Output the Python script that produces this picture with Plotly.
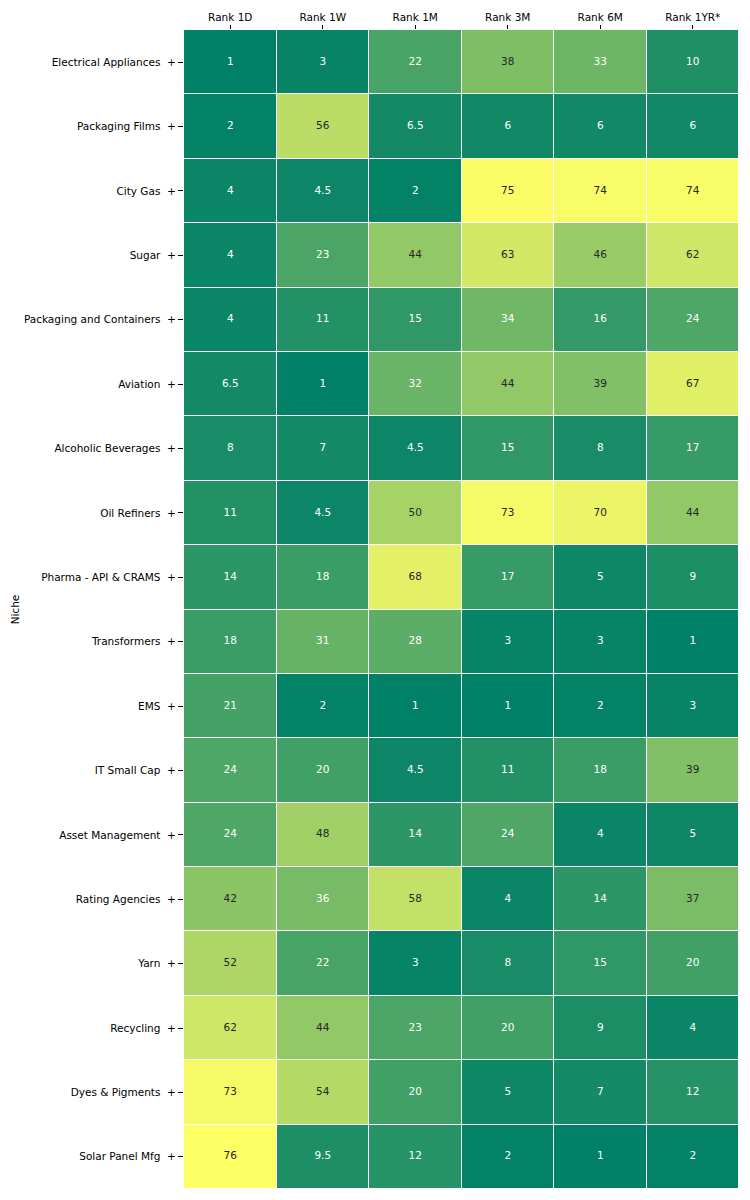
import plotly.graph_objects as go

columns = ["Rank 1D", "Rank 1W", "Rank 1M", "Rank 3M", "Rank 6M", "Rank 1YR*"]
niches = ["Electrical Appliances", "Packaging Films", "City Gas", "Sugar",
          "Packaging and Containers", "Aviation", "Alcoholic Beverages", "Oil Refiners",
          "Pharma - API & CRAMS", "Transformers", "EMS", "IT Small Cap",
          "Asset Management", "Rating Agencies", "Yarn", "Recycling",
          "Dyes & Pigments", "Solar Panel Mfg"]

rank_1d = [1, 2, 4, 4, 4, 6.5, 8, 11, 14, 18, 21, 24, 24, 42, 52, 62, 73, 76]
rank_1w = [3, 56, 4.5, 23, 11, 1, 7, 4.5, 18, 31, 2, 20, 48, 36, 22, 44, 54, 9.5]
rank_1m = [22, 6.5, 2, 44, 15, 32, 4.5, 50, 68, 28, 1, 4.5, 14, 58, 3, 23, 20, 12]
rank_3m = [38, 6, 75, 63, 34, 44, 15, 73, 17, 3, 1, 11, 24, 4, 8, 20, 5, 2]
rank_6m = [33, 6, 74, 46, 16, 39, 8, 70, 5, 3, 2, 18, 4, 14, 15, 9, 7, 1]
rank_1yr = [10, 6, 74, 62, 24, 67, 17, 44, 9, 1, 3, 39, 5, 37, 20, 4, 12, 2]

series = [rank_1d, rank_1w, rank_1m, rank_3m, rank_6m, rank_1yr]
zmin, zmax = 1, 76

ylabels = [n + "\u00a0\u00a0+" for n in niches]
z = [[series[j][i] for j in range(len(columns))] for i in range(len(niches))]

def summer(t):
    t = min(max(t, 0), 1)
    return (t, 0.5 + 0.5 * t, 0.4)

def lum(c):
    lin = [x / 12.92 if x <= 0.03928 else ((x + 0.055) / 1.055) ** 2.4 for x in c]
    return 0.2126 * lin[0] + 0.7152 * lin[1] + 0.0722 * lin[2]

tx, ty, tt, tc = [], [], [], []
for i, n in enumerate(ylabels):
    for j, c in enumerate(columns):
        v = series[j][i]
        tx.append(c)
        ty.append(n)
        tt.append(f"{v:g}")
        col = summer((v - zmin) / (zmax - zmin))
        tc.append("#262626" if lum(col) > 0.408 else "#ffffff")

fig = go.Figure()
fig.add_trace(go.Heatmap(
    z=z, x=columns, y=ylabels, zmin=zmin, zmax=zmax,
    colorscale=[[0, "rgb(0,128,102)"], [1, "rgb(255,255,102)"]],
    showscale=False, xgap=1, ygap=1, hoverinfo="skip",
))
fig.add_trace(go.Scatter(
    x=tx, y=ty, mode="text", text=tt,
    textfont=dict(color=tc, size=10.5, family="DejaVu Sans"),
    hoverinfo="skip", showlegend=False, cliponaxis=True,
))

fig.update_layout(
    width=750, height=1200,
    margin=dict(l=176, r=19, t=22, b=19, autoexpand=False),
    paper_bgcolor="white", plot_bgcolor="white",
    font=dict(family="DejaVu Sans", size=10.5, color="#000000"),
    showlegend=False,
)
fig.update_xaxes(side="top", ticks="outside", ticklen=4, tickcolor="#000",
                 automargin=False, range=[-0.5, len(columns) - 0.5],
                 showgrid=False, zeroline=False, showline=False,
                 categoryorder="array", categoryarray=columns)
fig.update_yaxes(ticks="outside", ticklen=5, tickcolor="#000", automargin=False,
                 range=[len(niches) - 0.5, -0.5],
                 showgrid=False, zeroline=False, showline=False,
                 categoryorder="array", categoryarray=ylabels,
                 title=dict(text="Niche", standoff=2, font=dict(size=10.5)))

fig.write_html("out.html")
